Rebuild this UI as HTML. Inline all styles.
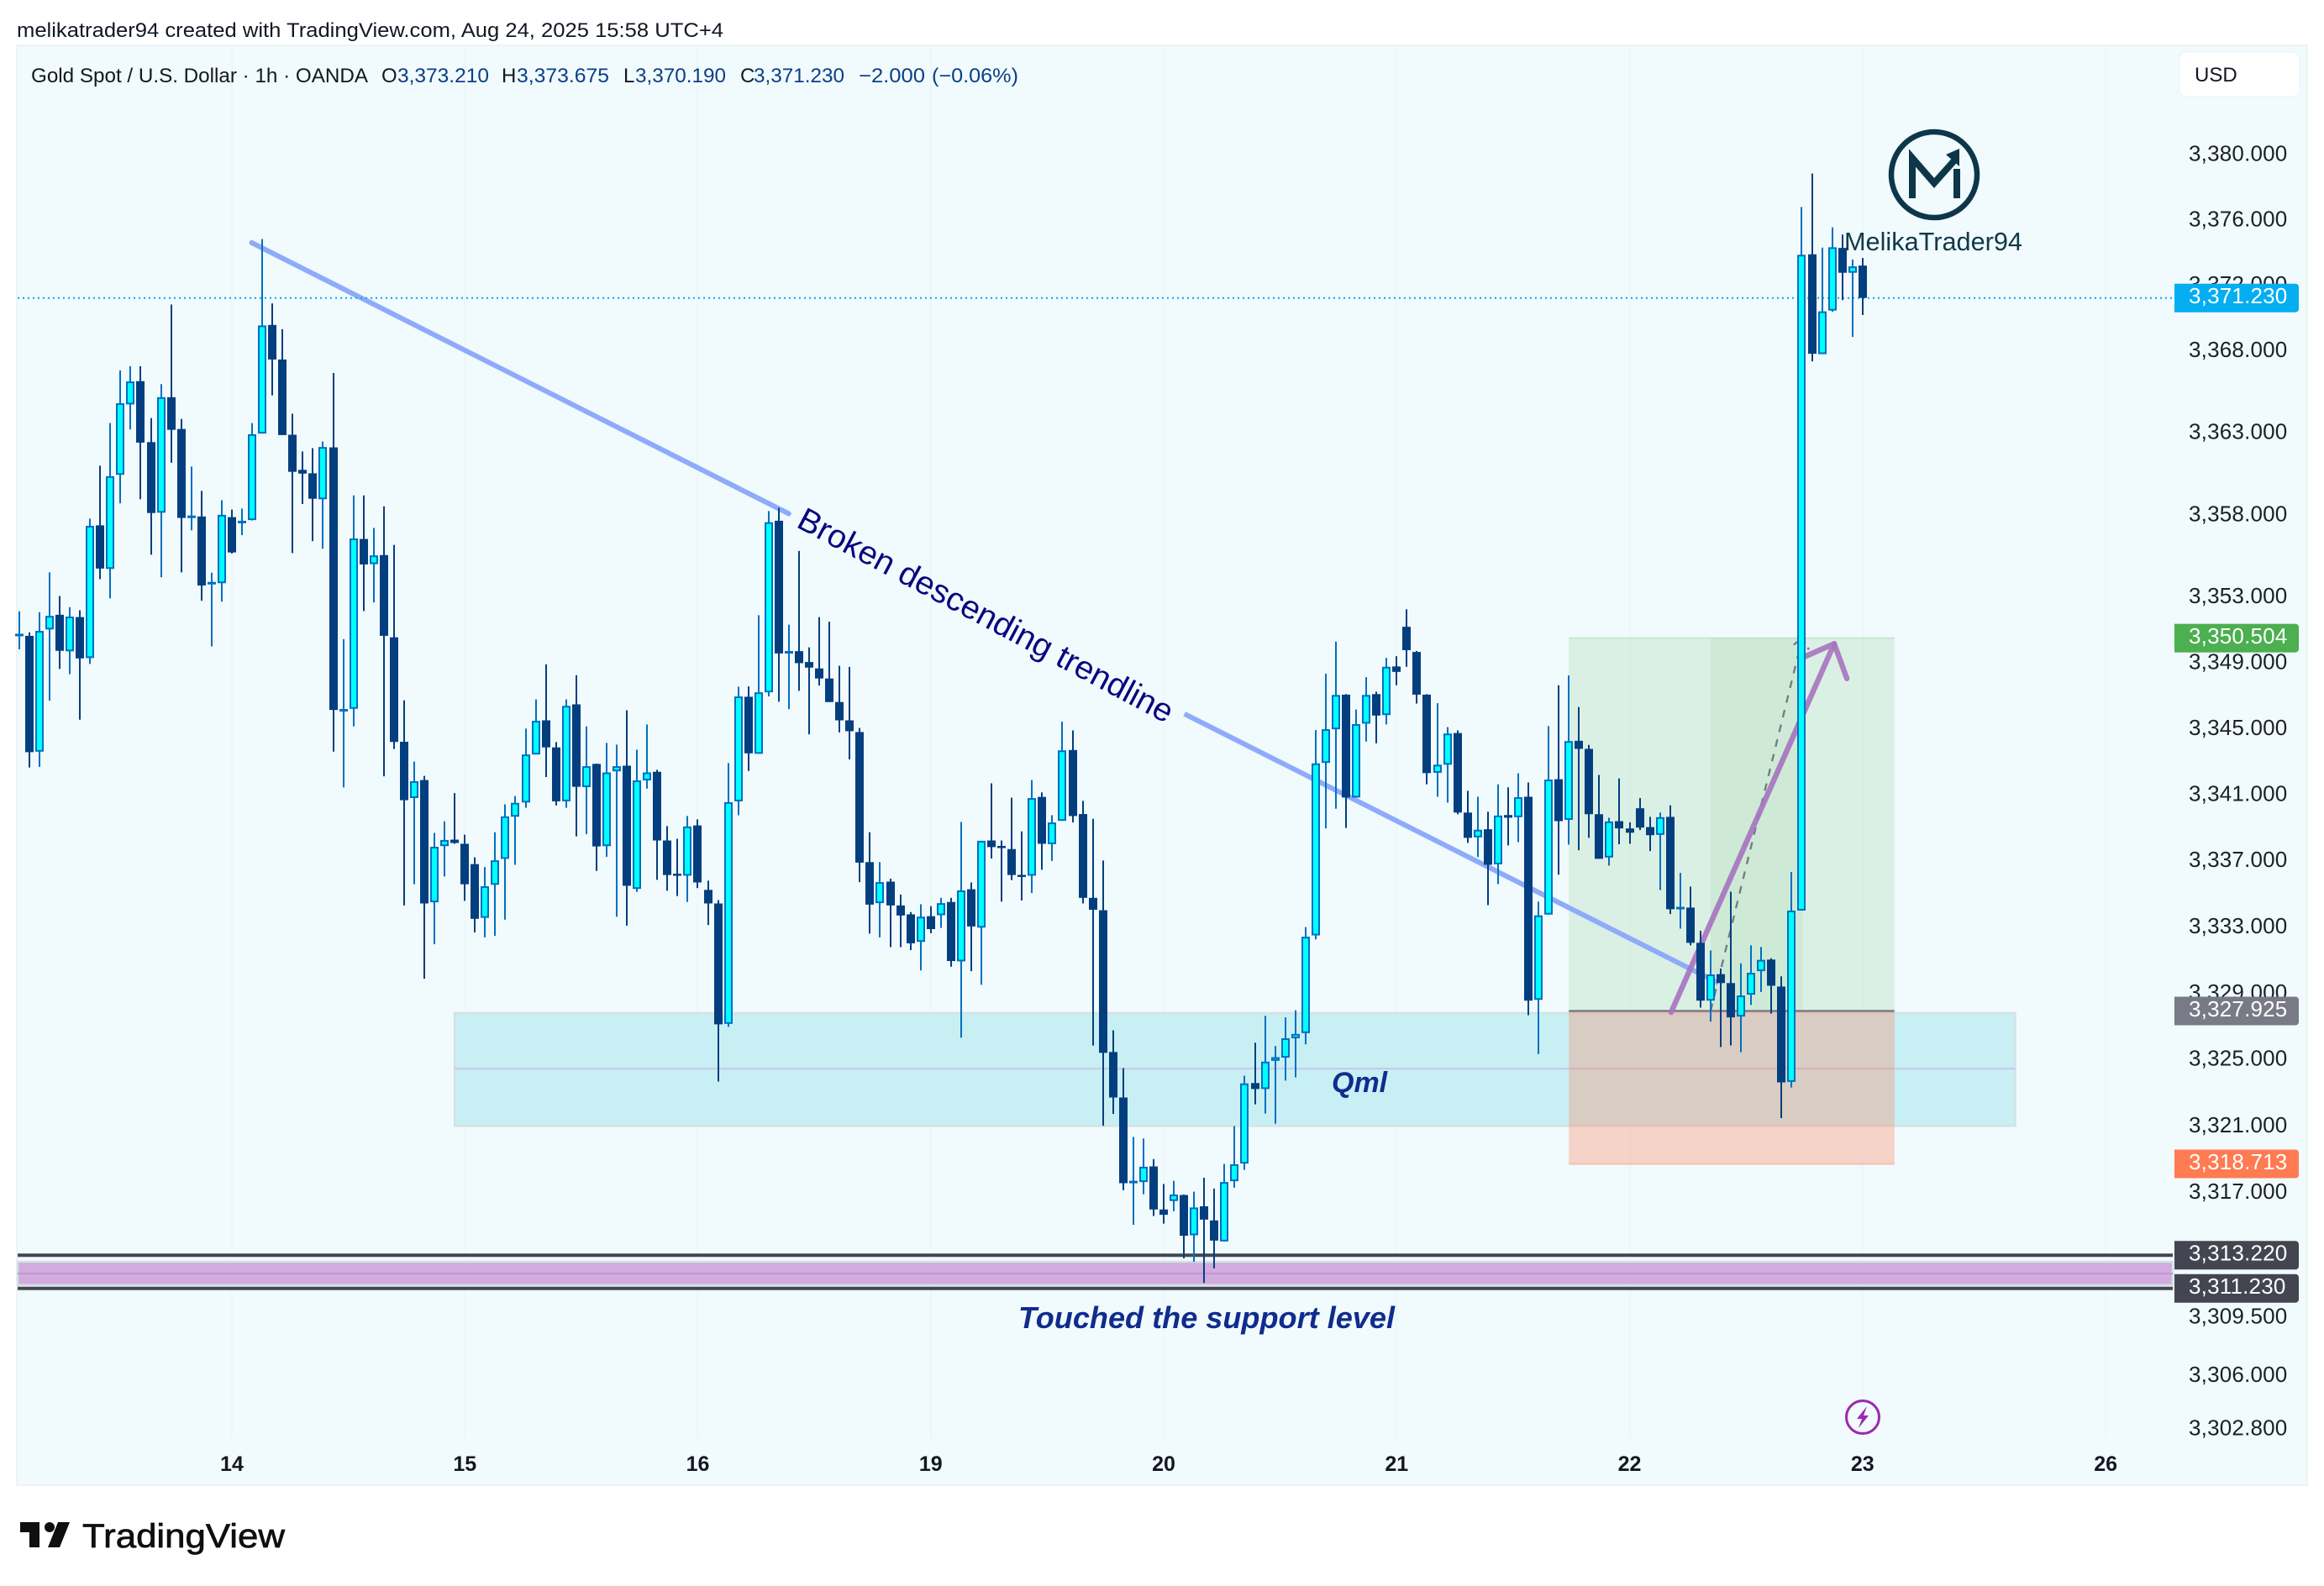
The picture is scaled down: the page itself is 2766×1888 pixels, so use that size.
<!DOCTYPE html>
<html lang="en">
<head>
<meta charset="utf-8">
<title>Gold Spot / U.S. Dollar 1h chart</title>
<style>
html,body{margin:0;padding:0;background:#fff;width:2766px;height:1888px;overflow:hidden}
svg{display:block}
text{font-family:"Liberation Sans",sans-serif}
</style>
</head>
<body>
<svg id="chart" xmlns="http://www.w3.org/2000/svg" width="2766" height="1888" viewBox="0 0 2766 1888">
  <rect x="0" y="0" width="2766" height="1888" fill="#ffffff"/>
  <text x="20" y="44" font-size="24" fill="#131722" textLength="841" lengthAdjust="spacingAndGlyphs">melikatrader94 created with TradingView.com, Aug 24, 2025 15:58 UTC+4</text>
  <rect x="20" y="54" width="2726" height="1714" fill="#f1fafc" stroke="#f0f3f4" stroke-width="2"/>
  <g id="grid"></g>
  <g id="zones"></g>
  <g id="candles"></g>

  <text x="0" y="0" font-size="39" fill="#07077f" text-anchor="middle" dominant-baseline="central" transform="translate(1173 733) rotate(28)" textLength="500" lengthAdjust="spacingAndGlyphs">Broken descending trendline</text>
  <text x="1585" y="1300" font-size="34" font-weight="bold" font-style="italic" fill="#0f2c8e">Qml</text>
  <text x="1212" y="1581" font-size="36" font-weight="bold" font-style="italic" fill="#0f2c8e" textLength="448" lengthAdjust="spacingAndGlyphs">Touched the support level</text>

  <g>
    <circle cx="2302" cy="208" r="51" fill="none" stroke="#0d3649" stroke-width="6.5"/>
    <path d="M2276 236V188L2302 218L2327 190" fill="none" stroke="#0d3649" stroke-width="8"/>
    <rect x="2325" y="201" width="8" height="35" fill="#0d3649"/>
    <polygon points="2332,177 2316,184 2332,198" fill="#0d3649"/>
    <text x="2195" y="298" font-size="31" fill="#10394a" textLength="212" lengthAdjust="spacingAndGlyphs">MelikaTrader94</text>
  </g>

  <g font-size="24">
    <text x="37" y="98" fill="#131722" textLength="401" lengthAdjust="spacingAndGlyphs">Gold Spot / U.S. Dollar · 1h · OANDA</text>
    <text x="454" y="98" fill="#131722">O</text>
    <text x="473" y="98" fill="#0b3f86" textLength="109" lengthAdjust="spacingAndGlyphs">3,373.210</text>
    <text x="597" y="98" fill="#131722">H</text>
    <text x="615" y="98" fill="#0b3f86" textLength="110" lengthAdjust="spacingAndGlyphs">3,373.675</text>
    <text x="742" y="98" fill="#131722">L</text>
    <text x="756" y="98" fill="#0b3f86" textLength="108" lengthAdjust="spacingAndGlyphs">3,370.190</text>
    <text x="881" y="98" fill="#131722">C</text>
    <text x="897" y="98" fill="#0b3f86" textLength="108" lengthAdjust="spacingAndGlyphs">3,371.230</text>
    <text x="1022" y="98" fill="#0b3f86" textLength="79" lengthAdjust="spacingAndGlyphs">−2.000</text>
    <text x="1109" y="98" fill="#0b3f86" textLength="103" lengthAdjust="spacingAndGlyphs">(−0.06%)</text>
  </g>

  <g id="price-axis"></g>
  <g id="time-axis"></g>
  <g id="price-tags"></g>

  <g>
    <rect x="2594" y="62" width="143" height="53" rx="8" fill="#ffffff" stroke="#eff3f4" stroke-width="1"/>
    <text x="2612" y="97" font-size="24" fill="#131722">USD</text>
  </g>

  <g>
    <circle cx="2217" cy="1687" r="19.5" fill="#f1fafc" stroke="#9c27b0" stroke-width="3"/>
    <polygon points="2222,1674 2210,1689 2216,1689 2212,1700 2224,1685 2218,1685" fill="#9c27b0"/>
  </g>

  <g>
    <path d="M24 1812H47V1842H35V1824H24Z" fill="#0f0f0f"/>
    <circle cx="59" cy="1818" r="6" fill="#0f0f0f"/>
    <polygon points="69,1812 83,1812 71,1842 57,1842" fill="#0f0f0f"/>
    <text x="98" y="1842" font-size="40" fill="#0f0f0f" stroke="#0f0f0f" stroke-width="0.7" textLength="241" lengthAdjust="spacingAndGlyphs">TradingView</text>
  </g>
</svg>
<script>
const opens=[3350.66,3350.64,3343.61,3351.03,3351.92,3349.70,3351.78,3349.29,3357.36,3354.71,3360.44,3364.73,3366.15,3362.43,3358.13,3365.17,3363.23,3357.85,3357.90,3353.81,3353.84,3357.86,3357.47,3357.68,3362.95,3369.58,3367.47,3362.88,3360.74,3360.53,3358.95,3362.11,3346.09,3346.21,3356.53,3355.00,3355.55,3350.55,3344.21,3340.80,3341.89,3334.49,3337.89,3338.28,3338.03,3336.80,3333.55,3335.55,3337.12,3339.67,3340.53,3343.44,3345.51,3343.87,3340.60,3346.48,3341.46,3342.87,3337.89,3342.42,3342.76,3335.30,3341.87,3342.39,3338.23,3336.22,3336.10,3339.14,3335.24,3334.42,3327.15,3340.60,3346.94,3343.48,3347.21,3357.64,3349.61,3349.71,3349.05,3348.66,3348.05,3346.62,3345.51,3344.80,3336.92,3334.44,3335.74,3334.30,3333.76,3332.10,3333.65,3333.71,3334.51,3330.92,3335.28,3332.96,3338.23,3337.90,3337.71,3336.15,3336.10,3340.87,3338.01,3339.42,3343.71,3339.83,3334.76,3334.01,3325.45,3322.71,3317.59,3317.62,3318.56,3315.97,3316.48,3316.84,3314.42,3316.16,3315.31,3314.05,3317.67,3318.73,3323.58,3323.22,3324.92,3325.11,3326.28,3326.59,3332.49,3342.93,3344.97,3347.07,3340.83,3345.31,3347.10,3345.83,3348.78,3351.19,3349.66,3347.07,3342.33,3342.82,3344.74,3339.92,3338.42,3338.91,3336.79,3339.77,3339.64,3340.88,3328.60,3333.75,3341.94,3339.48,3344.27,3343.78,3339.82,3337.20,3339.40,3338.96,3340.18,3339.04,3338.57,3339.66,3334.10,3334.17,3332.04,3328.55,3330.15,3329.61,3327.59,3328.91,3330.33,3331.03,3329.40,3323.65,3333.99,3373.90,3367.80,3370.46,3374.29,3372.77,3373.21];
const highs=[3352.13,3350.85,3352.08,3354.50,3353.06,3352.38,3352.19,3357.77,3360.99,3363.59,3366.81,3367.06,3367.06,3363.89,3365.97,3370.83,3363.84,3360.94,3359.46,3354.48,3358.89,3358.32,3358.38,3363.59,3374.83,3370.90,3369.32,3364.16,3361.86,3362.06,3362.47,3366.65,3350.44,3359.18,3359.18,3357.20,3358.52,3356.17,3346.73,3343.01,3342.14,3338.69,3339.39,3341.10,3338.58,3337.21,3336.62,3338.73,3340.42,3340.92,3345.01,3346.78,3348.91,3344.19,3346.78,3348.25,3345.14,3342.89,3344.14,3344.03,3346.12,3343.73,3345.26,3342.51,3339.10,3338.33,3339.71,3339.51,3335.80,3334.62,3342.92,3347.55,3347.57,3351.89,3358.23,3358.43,3351.32,3355.80,3349.94,3351.78,3351.50,3348.82,3348.75,3345.05,3338.73,3336.92,3335.92,3334.96,3333.90,3334.37,3334.26,3334.76,3334.76,3339.35,3335.69,3338.21,3341.69,3338.23,3340.82,3338.78,3341.89,3341.14,3339.76,3345.43,3344.90,3340.63,3339.54,3337.02,3326.76,3324.48,3320.33,3320.24,3319.00,3317.50,3317.69,3316.87,3317.04,3317.88,3317.23,3318.71,3320.99,3324.02,3326.01,3327.63,3325.81,3327.54,3327.97,3332.99,3344.92,3348.34,3350.29,3347.10,3346.17,3348.13,3347.25,3349.30,3349.40,3352.25,3349.72,3347.10,3346.55,3345.10,3344.90,3341.24,3340.88,3339.97,3341.63,3341.45,3342.30,3341.74,3334.53,3345.16,3347.64,3348.24,3346.32,3344.02,3342.20,3339.61,3341.99,3339.33,3340.80,3339.66,3339.92,3340.36,3336.27,3335.44,3332.77,3331.58,3330.49,3335.13,3330.80,3331.89,3331.79,3331.11,3330.02,3336.32,3376.79,3378.85,3374.31,3375.55,3375.11,3373.58,3373.675];
const lows=[3349.82,3342.65,3342.69,3346.71,3348.63,3348.31,3345.55,3348.93,3354.09,3352.92,3358.70,3363.20,3358.95,3355.57,3354.20,3361.17,3354.50,3357.06,3352.77,3350.00,3352.72,3355.64,3356.76,3357.66,3362.95,3365.28,3362.86,3355.67,3358.66,3356.40,3355.94,3343.61,3341.44,3345.14,3352.15,3352.67,3342.12,3343.77,3334.30,3335.58,3329.87,3331.96,3336.05,3338.03,3334.58,3332.67,3332.37,3332.46,3333.44,3336.76,3340.21,3343.44,3342.07,3340.35,3340.21,3338.48,3338.62,3336.39,3337.24,3333.62,3333.08,3335.12,3341.37,3335.85,3335.19,3334.87,3334.51,3335.35,3333.12,3323.67,3326.97,3339.76,3342.44,3343.48,3346.96,3346.64,3346.19,3347.30,3344.66,3347.62,3346.62,3344.78,3343.14,3335.71,3332.60,3332.37,3331.78,3331.78,3331.60,3330.37,3332.62,3332.94,3330.60,3326.31,3330.33,3329.51,3337.14,3334.53,3335.83,3334.60,3335.05,3336.46,3336.99,3339.42,3339.32,3334.42,3325.84,3321.01,3321.72,3317.13,3315.05,3316.89,3315.58,3315.12,3315.87,3313.03,3312.82,3311.56,3312.43,3314.05,3317.28,3318.35,3322.30,3321.74,3321.13,3323.73,3323.92,3325.91,3332.25,3338.96,3340.15,3338.99,3340.83,3344.22,3344.12,3345.26,3347.64,3348.76,3346.53,3341.63,3340.88,3340.52,3339.82,3338.08,3337.23,3334.32,3335.59,3337.93,3338.13,3327.67,3325.33,3333.75,3336.16,3337.98,3337.64,3338.39,3337.12,3336.71,3338.00,3338.03,3338.86,3337.59,3335.23,3333.78,3332.90,3331.89,3328.13,3327.28,3325.75,3325.85,3325.44,3328.29,3329.07,3327.77,3321.47,3323.31,3333.99,3367.36,3367.80,3370.39,3371.10,3368.85,3370.19];
const closes=[3350.72,3343.58,3350.94,3351.85,3349.73,3351.81,3349.27,3357.33,3354.73,3360.35,3364.80,3366.13,3362.40,3358.11,3365.17,3363.18,3357.81,3357.91,3353.70,3353.87,3358.00,3355.71,3357.65,3362.91,3369.55,3367.47,3362.86,3360.62,3360.51,3358.98,3362.13,3346.14,3346.15,3356.56,3354.98,3355.53,3350.64,3344.20,3340.67,3341.82,3334.42,3337.85,3338.26,3338.08,3335.58,3333.49,3335.46,3337.03,3339.69,3340.51,3343.44,3345.48,3343.87,3340.60,3346.39,3341.48,3342.73,3337.87,3342.35,3342.73,3335.49,3341.87,3342.35,3338.23,3336.14,3336.16,3339.08,3335.69,3334.42,3327.12,3340.55,3346.96,3343.51,3347.21,3357.55,3349.57,3349.67,3348.98,3348.71,3348.05,3346.62,3345.51,3344.85,3336.89,3334.35,3335.71,3334.30,3333.69,3332.01,3333.62,3332.87,3334.44,3330.94,3335.21,3333.03,3338.21,3337.83,3337.84,3336.14,3336.09,3340.80,3338.03,3339.32,3343.69,3339.71,3334.76,3334.04,3325.40,3322.71,3317.55,3317.65,3318.54,3315.97,3315.65,3316.87,3314.39,3316.09,3315.36,3314.10,3317.62,3318.69,3323.56,3323.22,3324.87,3325.14,3326.28,3326.54,3332.41,3342.90,3344.97,3347.05,3340.83,3345.28,3347.05,3345.80,3348.76,3348.45,3349.77,3347.07,3342.31,3342.82,3344.71,3339.92,3338.39,3338.88,3336.76,3339.74,3339.61,3340.85,3328.55,3333.70,3341.92,3339.40,3344.25,3343.78,3339.82,3337.12,3339.38,3338.96,3338.70,3339.01,3338.55,3339.64,3334.07,3334.18,3332.04,3328.55,3330.13,3329.61,3327.54,3328.86,3330.23,3331.01,3329.45,3323.62,3333.99,3373.87,3367.82,3370.41,3374.33,3372.77,3373.16,3371.23];

const priceTicks=[3380,3376,3372,3368,3363,3358,3353,3349,3345,3341,3337,3333,3329,3325,3321,3317,3309.5,3306,3302.8];
const timeLabels=['14','15','16','19','20','21','22','23','26'];
const timeBars=[21,44,67,90,113,136,159,182,206];
const lastPrice=3371.23;
const targetPrice=3350.504;
const entryPrice=3327.925;
const stopPrice=3318.713;
const supportHigh=3313.22;
const supportLow=3311.23;

const NS='http://www.w3.org/2000/svg';
function xOf(i){return 22.8+12.055*i;}
function yOf(p){return 354.7+65653*Math.log(3371.23/p);}
function fmt(v){return v.toLocaleString('en-US',{minimumFractionDigits:3,maximumFractionDigits:3});}
function mk(tag,parent){const el=document.createElementNS(NS,tag);parent.appendChild(el);return el;}
function geo(el,o){for(const k in o){el.setAttribute(k,o[k]);}return el;}
function boxBars(b0,b1,pHigh,pLow){return {x:xOf(b0),y:yOf(pHigh),width:xOf(b1)-xOf(b0),height:yOf(pLow)-yOf(pHigh)};}

const gridG=document.getElementById('grid');
const zonesG=document.getElementById('zones');
const candlesG=document.getElementById('candles');
const priceAxisG=document.getElementById('price-axis');
const timeAxisG=document.getElementById('time-axis');
const tagsG=document.getElementById('price-tags');

timeBars.forEach(function(b,k){
  const line=mk('line',gridG);
  
  
  geo(line,{x1:Math.round(xOf(b)),x2:Math.round(xOf(b)),y1:55,y2:1712,stroke:'#edf6f8','stroke-width':2});
  const t=mk('text',timeAxisG);
  
  
  geo(t,{x:xOf(b),y:1751,'text-anchor':'middle','font-size':25,'font-weight':'bold',fill:'#131722'});
  t.textContent=timeLabels[k];
});

/* Qml zone */
const qml=mk('rect',zonesG);


geo(qml,boxBars(43,197.07,3327.8,3321.0));
geo(qml,{fill:'#c8eff4',stroke:'#d5e1e3','stroke-width':2.5});
const qmlMid=mk('line',zonesG);


geo(qmlMid,{x1:xOf(43),x2:xOf(197.07),y1:yOf(3324.45),y2:yOf(3324.45),stroke:'#c6c8e8','stroke-width':2});

/* Long position tool */
const profit=mk('rect',zonesG);


geo(profit,boxBars(153,185.15,targetPrice,entryPrice));
geo(profit,{fill:'rgb(76,175,80)','fill-opacity':0.13});
const profitTop=mk('line',zonesG);


geo(profitTop,{x1:xOf(153),x2:xOf(185.15),y1:yOf(targetPrice),y2:yOf(targetPrice),stroke:'#c7e6d0','stroke-width':2});
const inner=mk('rect',zonesG);


geo(inner,boxBars(167,176.1,targetPrice,entryPrice));
geo(inner,{fill:'rgb(76,175,80)','fill-opacity':0.09});
const loss=mk('rect',zonesG);


geo(loss,boxBars(153,185.15,entryPrice,stopPrice));
geo(loss,{fill:'rgb(255,123,82)','fill-opacity':0.3});
const lossBottom=mk('line',zonesG);


geo(lossBottom,{x1:xOf(153),x2:xOf(185.15),y1:yOf(stopPrice),y2:yOf(stopPrice),stroke:'#f7bdac','stroke-width':2});
const entry=mk('line',zonesG);


geo(entry,{x1:xOf(153),x2:xOf(185.15),y1:yOf(entryPrice),y2:yOf(entryPrice),stroke:'#787b86','stroke-width':2.5});
const dash=mk('polyline',zonesG);


geo(dash,{points:xOf(167)+','+yOf(entryPrice)+' '+xOf(176.05)+','+yOf(targetPrice),fill:'none',stroke:'#787b86','stroke-width':2.4,'stroke-dasharray':'9 9'});
const dashHead=mk('polyline',zonesG);


geo(dashHead,{points:xOf(175.2)+','+yOf(3350.1)+' '+xOf(176.05)+','+yOf(targetPrice)+' '+xOf(176.7)+','+yOf(3349.8),fill:'none',stroke:'#787b86','stroke-width':2.4,'stroke-dasharray':'7 6'});

/* Support band */
const band=mk('rect',zonesG);


geo(band,{x:21,y:yOf(3312.83),width:2565,height:yOf(3311.42)-yOf(3312.83),fill:'#d2acdf',stroke:'#d3e3e4','stroke-width':2.5});
const bandMid=mk('line',zonesG);


geo(bandMid,{x1:21,x2:2586,y1:yOf(3312.12),y2:yOf(3312.12),stroke:'#c493d6','stroke-width':2});
const supHi=mk('line',zonesG);


geo(supHi,{x1:21,x2:2586,y1:yOf(supportHigh),y2:yOf(supportHigh),stroke:'#434651','stroke-width':4});
const supLo=mk('line',zonesG);


geo(supLo,{x1:21,x2:2586,y1:yOf(supportLow),y2:yOf(supportLow),stroke:'#434651','stroke-width':4});

/* Trendline */
const tl1=mk('line',zonesG);


geo(tl1,{x1:xOf(22.96),y1:yOf(3374.61),x2:xOf(75.98),y2:yOf(3358.07),stroke:'#8eabfa','stroke-width':6,'stroke-linecap':'round'});
const tl2=mk('line',zonesG);


geo(tl2,{x1:xOf(115.05),y1:yOf(3345.9),x2:xOf(167.75),y2:yOf(3329.62),stroke:'#8eabfa','stroke-width':6});

/* Purple arrow */
const arrow=mk('polyline',zonesG);


geo(arrow,{points:xOf(163.1)+','+yOf(3327.85)+' '+xOf(179.2)+','+yOf(3350.16)+' '+xOf(176.3)+','+yOf(3349.38),fill:'none',stroke:'#a673bf','stroke-opacity':0.9,'stroke-width':6.5,'stroke-linecap':'round','stroke-linejoin':'round'});
const arrow2=mk('line',zonesG);


geo(arrow2,{x1:xOf(179.2),y1:yOf(3350.16),x2:xOf(180.45),y2:yOf(3348.05),stroke:'#a673bf','stroke-opacity':0.9,'stroke-width':6.5,'stroke-linecap':'round'});

/* Last price line */
const lastLine=mk('line',zonesG);


geo(lastLine,{x1:21,x2:2586,y1:yOf(lastPrice),y2:yOf(lastPrice),stroke:'#00aaee','stroke-width':2,'stroke-dasharray':'2 4'});

/* Candles */
opens.forEach(function(o,i){
  const c=closes[i];
  const up=c>=o;
  const x=Math.round(xOf(i));
  const top=yOf(Math.max(o,c));
  const bot=yOf(Math.min(o,c));
  const g=mk('g',candlesG);
  
  
  const wick=mk('line',g);
  
  
  geo(wick,{x1:x,x2:x,y1:yOf(highs[i]),y2:yOf(lows[i]),stroke:up?'#0070c0':'#033f7f','stroke-width':2});
  const body=mk('rect',g);
  
  
  if(up){
    if(bot-top<4){
      geo(body,{x:x-5,y:(top+bot)/2-1.5,width:10,height:3,fill:'#0070c0'});
    }else{
      geo(body,{x:x-4,y:top+1,width:8,height:bot-top-2,fill:'#00ffff',stroke:'#0070c0','stroke-width':2});
    }
  }else{
    const h=Math.max(bot-top,2.5);
    geo(body,{x:x-5,y:top,width:10,height:h,fill:'#033f7f'});
  }
});

/* Price axis */
priceTicks.forEach(function(p){
  const t=mk('text',priceAxisG);
  
  
  geo(t,{x:2605,y:yOf(p)-1.5,'dominant-baseline':'central','font-size':26,fill:'#1b1f2a','letter-spacing':0.2});
  t.textContent=fmt(p);
});

/* Price tags */
function priceTag(value,color,name){
  const y=yOf(value);
  const r=mk('path',tagsG);
  
  
  geo(r,{d:'M2588 '+(y-17)+'H2732a4 4 0 0 1 4 4V'+(y+13)+'a4 4 0 0 1 -4 4H2588Z',fill:color});
  const t=mk('text',tagsG);
  
  
  geo(t,{x:2605,y:y-2.5,'dominant-baseline':'central','font-size':26,fill:'#ffffff','letter-spacing':0.2});
  t.textContent=fmt(value);
}
priceTag(lastPrice,'#04aef0','last-price-tag');
priceTag(targetPrice,'#4caf50','target-price-tag');
priceTag(entryPrice,'#787b86','entry-price-tag');
priceTag(stopPrice,'#ff7b52','stop-price-tag');
priceTag(supportHigh,'#434651','support-high-tag');
priceTag(supportLow,'#434651','support-low-tag');
</script>
</body>
</html>
